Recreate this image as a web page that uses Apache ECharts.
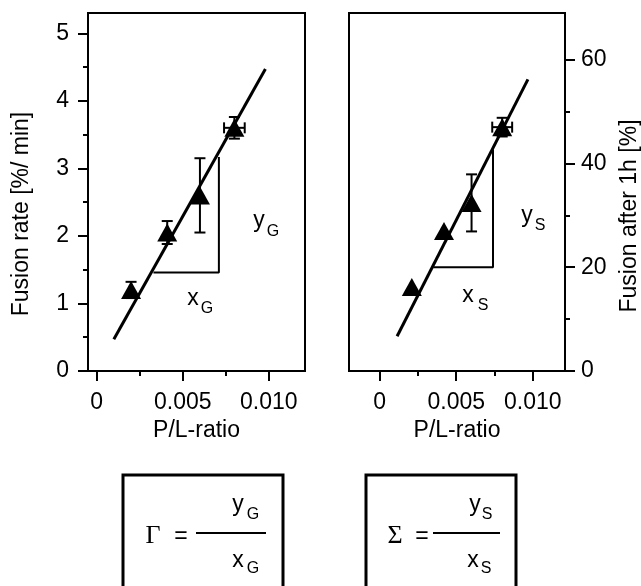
<!DOCTYPE html>
<html>
<head>
<meta charset="utf-8">
<script src="https://cdn.jsdelivr.net/npm/echarts@6/dist/echarts.min.js"></script>
<style>
  html, body { margin: 0; padding: 0; background: #fff; }
  #chart { width: 641px; height: 586px; }
</style>
</head>
<body>
<div id="chart"></div>
<script>
// P/L ratio of the samples (left panel: fusion rate)
const ratioG = [0.002, 0.0041, 0.006, 0.008];
const ratioErrG = [0, 0, 0, 0.0006];
// Fusion rate [%/min]
const rate = [1.2, 2.05, 2.6, 3.6];
const rateErr = [0.12, 0.17, 0.55, 0.16];

// P/L ratio of the samples (right panel: extent after 1 h)
const ratioS = [0.0021, 0.0042, 0.006, 0.008];
const ratioErrS = [0, 0, 0, 0.00065];
// Fusion after 1 h [%]
const extent = [16.2, 27, 32.4, 47];
const extentErr = [0, 0, 5.5, 1.8];

// Linear fits, given by their end points
const fitGx = [0.001, 0.0098];
const fitGy = [0.47, 4.47];
const fitSx = [0.00114, 0.00968];
const fitSy = [6.7, 56.2];

// Slope triangles under the fits
const slopeGx = [0.0033, 0.0071, 0.0071];
const slopeGy = [1.46, 1.46, 3.17];
const slopeSx = [0.0035, 0.0074, 0.0074];
const slopeSy = [20, 20, 42.7];

// Tick values and labels
const xTicks = [0, 0.005, 0.010];
const xTickLabels = ['0', '0.005', '0.010'];
const xMinor = [0.0025, 0.0075];
const rateTicks = [0, 1, 2, 3, 4, 5];
const rateMinor = [0.5, 1.5, 2.5, 3.5, 4.5];
const extTicks = [0, 20, 40, 60];
const extMinor = [10, 30, 50];

const SANS = '"Liberation Sans", Arial, Helvetica, sans-serif';
const SERIF = '"Liberation Serif", "Times New Roman", serif';
const BLACK = '#000';
const FS = 23;

const zip = (xs, ys) => xs.map((x, i) => [x, ys[i]]);
const errData = (xs, ys, ey, ex) => xs.map((x, i) => [x, ys[i], ey[i], ex[i]]);

function xLabel(v) {
  let best = 0;
  xTicks.forEach((t, i) => { if (Math.abs(t - v) < Math.abs(xTicks[best] - v)) best = i; });
  return xTickLabels[best];
}

function mainX(gridIndex, min, max) {
  return {
    type: 'value', gridIndex, min, max, position: 'bottom',
    name: 'P/L-ratio', nameLocation: 'middle', nameGap: 47,
    nameTextStyle: { color: BLACK, fontSize: FS, fontFamily: SANS },
    axisLine: { show: true, onZero: false, lineStyle: { color: BLACK, width: 2 } },
    axisTick: { show: true, customValues: xTicks, length: 10, inside: false, lineStyle: { color: BLACK, width: 2 } },
    axisLabel: { show: true, customValues: xTicks, formatter: xLabel, margin: 20, color: BLACK, fontSize: FS, fontFamily: SANS },
    splitLine: { show: false }
  };
}
function minorX(gridIndex, min, max) {
  return {
    type: 'value', gridIndex, min, max, position: 'bottom',
    axisLine: { show: false, onZero: false },
    axisTick: { show: true, customValues: xMinor, length: 5, lineStyle: { color: BLACK, width: 2 } },
    axisLabel: { show: false },
    splitLine: { show: false }
  };
}
function mainY(gridIndex, min, max, ticks, position, margin) {
  return {
    type: 'value', gridIndex, min, max, position,
    axisLine: { show: true, onZero: false, lineStyle: { color: BLACK, width: 2 } },
    axisTick: { show: true, customValues: ticks, length: 10, lineStyle: { color: BLACK, width: 2 } },
    axisLabel: { show: true, customValues: ticks, formatter: v => String(Math.round(v)), margin, color: BLACK, fontSize: FS, fontFamily: SANS },
    splitLine: { show: false }
  };
}
function minorY(gridIndex, min, max, ticks, position) {
  return {
    type: 'value', gridIndex, min, max, position,
    axisLine: { show: false, onZero: false },
    axisTick: { show: true, customValues: ticks, length: 5, lineStyle: { color: BLACK, width: 2 } },
    axisLabel: { show: false },
    splitLine: { show: false }
  };
}

// Vertical and horizontal error bars with caps
function renderErr(params, api) {
  const x = api.value(0), y = api.value(1), ey = api.value(2), ex = api.value(3);
  const style = { stroke: BLACK, lineWidth: 2, fill: null };
  const cap = 5.5;
  const children = [];
  const seg = (x1, y1, x2, y2) => children.push({ type: 'line', shape: { x1, y1, x2, y2 }, style });
  if (ey > 0) {
    const t = api.coord([x, y + ey]), b = api.coord([x, y - ey]);
    seg(t[0], t[1], b[0], b[1]);
    seg(t[0] - cap, t[1], t[0] + cap, t[1]);
    seg(b[0] - cap, b[1], b[0] + cap, b[1]);
  }
  if (ex > 0) {
    const l = api.coord([x - ex, y]), r = api.coord([x + ex, y]);
    seg(l[0], l[1], r[0], r[1]);
    seg(l[0], l[1] - cap, l[0], l[1] + cap);
    seg(r[0], r[1] - cap, r[0], r[1] + cap);
  }
  return { type: 'group', children };
}

function panelSeries(xi, yi, pts, err, fit, slope) {
  return [
    { type: 'line', xAxisIndex: xi, yAxisIndex: yi, data: fit, showSymbol: false, symbol: 'none',
      lineStyle: { color: BLACK, width: 3 }, silent: true, z: 3, animation: false },
    { type: 'line', xAxisIndex: xi, yAxisIndex: yi, data: slope, showSymbol: false, symbol: 'none',
      lineStyle: { color: BLACK, width: 2 }, silent: true, z: 2, animation: false },
    { type: 'custom', xAxisIndex: xi, yAxisIndex: yi, data: err, renderItem: renderErr,
      encode: { x: 0, y: 1 }, silent: true, z: 4, animation: false },
    { type: 'scatter', xAxisIndex: xi, yAxisIndex: yi, data: pts, symbol: 'triangle',
      symbolSize: [20, 18], itemStyle: { color: BLACK, opacity: 1 }, silent: true, z: 5, animation: false }
  ];
}

function txt(x, y, text, size, family, rotation) {
  return { type: 'text', x, y, rotation: rotation || 0, z: 10, silent: true,
    style: { text, fill: BLACK, font: size + 'px ' + (family || SANS), align: 'center', verticalAlign: 'middle' } };
}
function subbed(x, y, main, sub, dx, dy) {
  return [txt(x, y, main, FS), txt(x + dx, y + dy, sub, 16)];
}
function hline(x1, x2, y, w) {
  return { type: 'line', z: 10, silent: true, shape: { x1, y1: y, x2, y2: y }, style: { stroke: BLACK, lineWidth: w } };
}

const chart = echarts.init(document.getElementById('chart'), null, { renderer: 'canvas' });

chart.setOption({
  backgroundColor: '#fff',
  animation: false,
  grid: [
    { left: 88, top: 13, width: 217, height: 358, show: true, borderColor: BLACK, borderWidth: 2, backgroundColor: 'transparent', containLabel: false },
    { left: 349, top: 13, width: 216, height: 358, show: true, borderColor: BLACK, borderWidth: 2, backgroundColor: 'transparent', containLabel: false }
  ],
  xAxis: [
    mainX(0, -0.0005, 0.0121),
    minorX(0, -0.0005, 0.0121),
    mainX(1, -0.002, 0.0121),
    minorX(1, -0.002, 0.0121)
  ],
  yAxis: [
    mainY(0, 0, 5.3, rateTicks, 'left', 19),
    minorY(0, 0, 5.3, rateMinor, 'left'),
    mainY(1, 0, 69, extTicks, 'right', 16),
    minorY(1, 0, 69, extMinor, 'right')
  ],
  series: [
    ...panelSeries(0, 0, zip(ratioG, rate), errData(ratioG, rate, rateErr, ratioErrG), zip(fitGx, fitGy), zip(slopeGx, slopeGy)),
    ...panelSeries(2, 2, zip(ratioS, extent), errData(ratioS, extent, extentErr, ratioErrS), zip(fitSx, fitSy), zip(slopeSx, slopeSy))
  ],
  graphic: [
    // axis titles
    txt(22, 214, 'Fusion rate [%/ min]', FS, SANS, Math.PI / 2),
    txt(630, 216, 'Fusion after 1h [%]', FS, SANS, Math.PI / 2),
    // slope legs
    ...subbed(259, 221, 'y', 'G', 14, 11),
    ...subbed(193, 299, 'x', 'G', 14, 10),
    ...subbed(527, 216, 'y', 'S', 13, 10),
    ...subbed(468, 296, 'x', 'S', 15, 10),
    // definition boxes
    { type: 'rect', z: 10, silent: true, shape: { x: 123, y: 475, width: 160, height: 140 }, style: { stroke: BLACK, lineWidth: 3, fill: null } },
    { type: 'rect', z: 10, silent: true, shape: { x: 366, y: 475, width: 150, height: 140 }, style: { stroke: BLACK, lineWidth: 3, fill: null } },
    txt(153, 536, 'Γ', 26, SERIF),
    txt(181, 537, '=', FS),
    hline(196, 266, 533, 2),
    ...subbed(238, 505, 'y', 'G', 15, 10),
    ...subbed(238, 561, 'x', 'G', 15, 8),
    txt(395, 536, 'Σ', 26, SERIF),
    txt(422, 537, '=', FS),
    hline(433, 500, 533, 2),
    ...subbed(475, 505, 'y', 'S', 12, 10),
    ...subbed(473, 561, 'x', 'S', 13, 8)
  ]
});
</script>
</body>
</html>
